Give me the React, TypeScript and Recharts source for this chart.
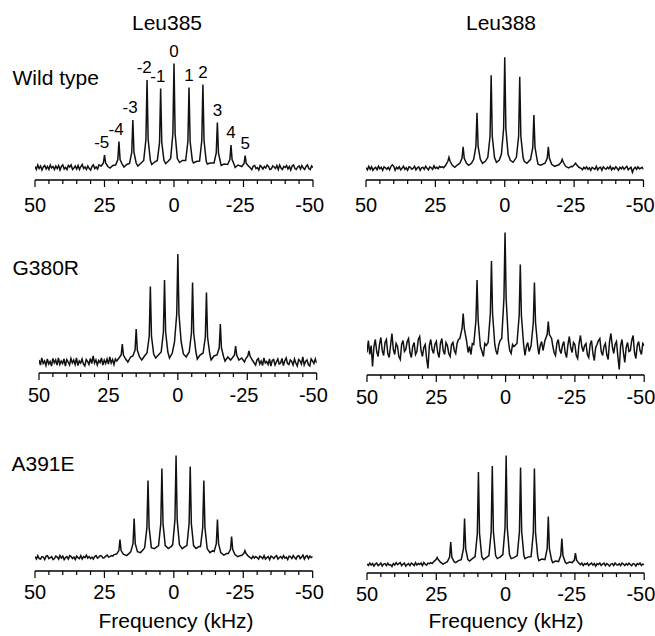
import React from 'react';
import { LineChart, Line, XAxis, YAxis, ReferenceDot } from 'recharts';

type Pt = [number, number];

const FONT = '"Liberation Sans", Arial, Helvetica, sans-serif';

// axis ticks (kHz)
const ALL_TICKS = [50, 45, 40, 35, 30, 25, 20, 15, 10, 5, 0, -5, -10, -15, -20, -25, -30, -35, -40, -45, -50];
const MAJOR_TICKS = [50, 25, 0, -25, -50];

const COLUMN_TITLES = ['Leu385', 'Leu388'];
const ROW_TITLES = ['Wild type', 'G380R', 'A391E'];
const X_TITLE = 'Frequency (kHz)';

// Baseline noise is sampled every 0.5 kHz, going down in frequency from a start value.
const NOISE_STEP = 0.5;

// ---------- Wild type, Leu385 ----------
const wt385Peaks: Pt[] = [[25, 12.5], [19.8, 26], [14.8, 47.5], [9.7, 87.5], [4.8, 79], [0, 104], [-5.4, 80], [-10.4, 83], [-15.6, 45], [-20.5, 22.5], [-25.6, 12]];
const wt385Labels = ['-5', '-4', '-3', '-2', '-1', '0', '1', '2', '3', '4', '5'];
const wt385NoiseHi = [1, -2, 2.5, -1, 1.5, -2.5, 0.5, 2, -1.5, 1, -2, 2.5, -0.5, 1, -2, 1.5, -1, 2, -2.5, 1, 2.5, -1.5, 0, -2, 2, 0.5, 2.5, -2, -0.5, 1.5, -1.5, 2, -2, 1, 3, -1, 0.5, -2, 1.5, -1, -2.5, 1, 2.5, -1, 0.5, -1.5, 2.5];
const wt385NoiseLo = [-0.5, -2, 1.5, 2, -1, 0, -2.5, 2, 0.5, -1.5, 1, -0.5, 2.5, 1, -2, -1.5, 1.5, 0.5, -1, 2, -2, 2.5, -0.5, -2, 1, 0, 2, -1.5, 1, -2.5, 1.5, 2.5, -1, -2, 0.5, 1.5, -1.5, 2, -0.5, -2, 1, 2.5, -1, -2, 1.5, 0];
const wt385Trace: Pt[] = [
  [26.2, 1.5], [25.4, 4.5], [24.6, 4.5], [23.8, 1], [23, -0.5], [22, 2],
  [21, 2.5], [20.2, 8], [19.4, 8], [18.6, 3], [18, 0.5], [17, 3],
  [16, 4], [15.2, 15], [14.4, 15], [13.6, 4.5], [13, 1.5], [12, 4],
  [10.9, 7], [10.1, 28], [9.3, 28], [8.5, 7], [8, 3], [7, 5.5],
  [6, 7], [5.2, 25], [4.4, 25], [3.6, 7], [3, 4], [2, 6.5],
  [1.2, 9], [0.4, 34], [-0.4, 34], [-1.2, 9], [-2, 5], [-3, 7],
  [-4.2, 7], [-5, 26], [-5.8, 26], [-6.6, 7], [-7, 4.5], [-8, 6],
  [-9.2, 6.5], [-10, 27], [-10.8, 27], [-11.6, 6], [-12, 3.5], [-13, 4.5],
  [-14.4, 4.5], [-15.2, 14.5], [-16, 14.5], [-16.8, 4], [-17, 2], [-18, 3.5],
  [-19.3, 3], [-20.1, 8], [-20.9, 8], [-21.7, 2.5], [-22, 0], [-23, 2.5],
  [-24.4, 1], [-25.2, 4], [-26, 4], [-26.8, 1.5],
];

// ---------- Wild type, Leu388 ----------
const wt388Peaks: Pt[] = [[20.1, 11], [15, 21.6], [10, 55.6], [4.9, 93], [0, 111], [-5.4, 91.6], [-10.5, 53.3], [-15.7, 21.6], [-20.7, 9], [-25.5, 5]];
const wt388NoiseHi = [0.5, -1.5, 2, -1, 1.5, -2, 0, 1, -1.5, 2, -0.5, 1, -2, 1.5, 0.5, -1, 1, -1.5, 2, 3.5, 2, -2, 1, -0.5, 1.5, -1.5, 0, 2, -1, 0.5, -2, 1.5, 1, -1, 0, 2, -1.5, 0.5, 1.5, -2, 0.5, 1, -1, 2, 0, -1.5, 1.5, 0.5, -1, 2.5, 0, 1, -0.5, 2, 1, 1.5, 0.5];
const wt388NoiseLo = [0, -1.5, 1, -0.5, 1.5, -1, 0.5, -2, 1, 0, -1, 2, -1.5, 0.5, 1, -2, 1.5, 0, -1, 1, -0.5, 2, -1.5, 0.5, -1, 1.5, 0, -2, 1, -0.5, 1.5, -1, 0.5, 2, -1.5, 0, 1, -4, -0.5, 1, -1, 1.5, -0.5, 0, 1, -1];
const wt388Trace: Pt[] = [
  [21.3, 3], [20.5, 7], [19.7, 7], [18.9, 3], [18, 1], [17, 3.5],
  [16.2, 5], [15.4, 10], [14.6, 10], [13.8, 5], [13, 3], [12, 5],
  [11.2, 9], [10.4, 22], [9.6, 22], [8.8, 9], [8, 5], [7, 7],
  [6.1, 11], [5.3, 32], [4.5, 32], [3.7, 11], [3, 6], [2, 8],
  [1.2, 14], [0.4, 40], [-0.4, 40], [-1.2, 14], [-2, 8], [-3, 6],
  [-4.2, 11], [-5, 32], [-5.8, 32], [-6.6, 11], [-7, 7], [-8, 5],
  [-9.3, 9], [-10.1, 21], [-10.9, 21], [-11.7, 8], [-12, 4], [-13, 3],
  [-14.5, 5], [-15.3, 10], [-16.1, 10], [-16.9, 4], [-18, 2], [-19, 3],
  [-19.5, 3.5], [-20.3, 6], [-21.1, 6], [-21.9, 2], [-23, 0.5], [-24, 2],
  [-24.3, 1.5], [-25.1, 3.5], [-25.9, 3.5], [-26.7, 1],
];

// ---------- G380R, Leu385 ----------
const g380r385Peaks: Pt[] = [[20, 18], [15, 33], [9.9, 75.6], [4.8, 82], [0, 108], [-5.3, 79.6], [-10.3, 69.6], [-15.3, 38], [-20.8, 16], [-25.6, 11]];
const g380r385NoiseHi = [2, -3, 4, -1.5, 1, -3.5, 3, -2, 0.5, -4, 3.5, -1, 2, -3, 4, -2.5, 1, -1.5, 3, -4, 2.5, 0, -3, 3.5, -1, 2, -2.5, 4, -3.5, 1, -1, 3, -2, -4, 2.5, 0.5, -2.5, 3.5, -1.5, 6, -1, 2, -3, 1.5, -0.5, 4, -3, 2, -1.5, 3, -2, 5, -1, 2.5, -2.5, 3, 1];
const g380r385NoiseLo = [-1, -3, 2, 3.5, -2, 1, -3.5, 4, -1, 0.5, -2.5, 3, -4, 1.5, 2.5, -3, 0, 3, -2, -1, 3.5, -3.5, 1, 4, -1.5, -2.5, 2, 0.5, -3, 3, -1, -4, 2.5, 1, -2, 5, -3, 0.5, 2, -2.5, -4, 3, 1, -1.5, 3, -1];
const g380r385Trace: Pt[] = [
  [21.2, 4], [20.4, 7], [19.6, 7], [18.8, 3], [18, 0], [17, 5],
  [16.2, 6], [15.4, 12], [14.6, 12], [13.8, 5], [13, 2], [12, 6],
  [11.1, 9], [10.3, 26], [9.5, 26], [8.7, 8], [8, 4], [7, 7],
  [6, 10], [5.2, 30], [4.4, 30], [3.6, 10], [3, 4], [2, 9],
  [1.2, 20], [0.4, 48], [-0.4, 48], [-1.2, 20], [-2, 8], [-3, 5],
  [-4.1, 10], [-4.9, 29], [-5.7, 29], [-6.5, 10], [-7, 3], [-8, 7],
  [-9.1, 9], [-9.9, 25], [-10.7, 25], [-11.5, 8], [-12, 2], [-13, 6],
  [-14.1, 7], [-14.9, 14], [-15.7, 14], [-16.5, 5], [-17, 1], [-18, 5], [-19, 2],
  [-19.6, 4], [-20.4, 7], [-21.2, 7], [-22, 2], [-23, 4], [-24, 0],
  [-24.4, 3], [-25.2, 6], [-26, 6], [-26.8, 2],
];

// ---------- G380R, Leu388 ----------
const g380r388Peaks: Pt[] = [[15.3, 35], [10.3, 68.5], [5.1, 87.5], [0.2, 116], [-5.3, 84], [-10.4, 66], [-15.4, 27]];
const g380r388NoiseHi = [-4, 8, -6, 3, -18, 2, 9, -3, -8, 4, 11, -2, -7, 6, 9, -5, -9, 3, 15, -1, -6, 5, 2, -8, -11, 4, 8, -3, -1, 7, 10, -4, -9, 2, 6, -6, -3, 9, 12, -2, -8, 1, 4, -10, -20, 3, 9, -1, -5, 4, 7, -4, -9, 5, 10, -2, -6, 6, 3, -5, -8, 4, 6, -2, -5, 5, 9];
const g380r388NoiseLo = [3, -4, -7, 5, 9, -1, -5, 3, 7, -4, -9, 4, 12, 1, -4, 6, 4, -7, -10, 5, 13, 2, -3, 3, 5, -6, -9, 4, 8, -5, -12, 1, 4, 8, 10, -3, -7, 2, 5, -6, -11, 7, 15, 2, -5, 4, 7, -8, -21, 3, 9, -4, -14, 1, 6, -3, -2, 8, 13, -4, -10, 3, 7, -2, -6, 5, 3];
const g380r388Trace: Pt[] = [
  [16.5, 10], [15.7, 20], [14.9, 20], [14.1, 8], [13.5, -4], [13, 2], [12.5, -6], [12, 5],
  [11.5, 4], [10.7, 28], [9.9, 28], [9.1, 2], [8.5, -3], [8, -8], [7.5, 5], [7, 3],
  [6.3, 6], [5.5, 35], [4.7, 35], [3.9, 4], [3.5, -2], [3, -6], [2.5, 3], [2, 8],
  [1.4, 10], [0.6, 50], [-0.2, 50], [-1, 8], [-1.5, -2], [-2, -5], [-2.5, 4], [-3, 2],
  [-4.1, 5], [-4.9, 33], [-5.7, 33], [-6.5, 4], [-7, -7], [-7.5, 2], [-8, 6], [-8.5, -3],
  [-9.2, 3], [-10, 26], [-10.8, 26], [-11.6, 2], [-12, -6], [-12.5, 3], [-13, 7], [-13.5, -2],
  [-14.2, 8], [-15, 14], [-15.8, 14], [-16.6, 10],
];

// ---------- A391E, Leu385 ----------
const a391e385Peaks: Pt[] = [[19.4, 18], [14.3, 39], [9.3, 77], [4.3, 89], [-0.8, 102], [-5.9, 91], [-10.8, 77], [-15.7, 38], [-20.8, 21], [-25.6, 7]];
const a391e385NoiseHi = [1, -1.5, 2, -1, -1.5, 1, 0.5, -2, 1.5, 2, -1, 0, 1, -2, -1, 1.5, 0.5, -1.5, 2, -0.5, 1.5, -2, 0, 1, -1.5, 2, 1, -1, 0.5, -2, 1.5, 0, -1, 2, -1.5, 1, 0, 2.5, -0.5, 1, -1, 0.5, -1.5, 1, 2, -0.5, 0.5, 2, 1.5, -0.5, 0, 1.5, 2.5, 0.5, 1, 2, 1.5, 3];
const a391e385NoiseLo = [0, -1, 1.5, -0.5, 1, 0, -1.5, 1.5, 0.5, -1, 2, -1.5, 0, 1, -2, 1.5, 0.5, -1, 1, 2, -1.5, 0, 1, -1, 2, -0.5, 0.5, -2, 1.5, 1, -1, 2, 0, -1.5, 1.5, 2, -1, 0.5, 2.5, -1.5, 1, 2, -1, 1.5, 0, 1];
const a391e385Trace: Pt[] = [
  [20.6, 3.5], [19.8, 7], [19, 7], [18.2, 3.5], [17, 2], [16, 4.5],
  [15.5, 6], [14.7, 14], [13.9, 14], [13.1, 6], [12, 5], [11, 8],
  [10.5, 10], [9.7, 30], [8.9, 30], [8.1, 10], [7, 9], [6, 11],
  [5.5, 12], [4.7, 34], [3.9, 34], [3.1, 12], [2, 9], [1, 11],
  [0.4, 13], [-0.4, 38], [-1.2, 38], [-2, 13], [-3, 9], [-4, 11],
  [-4.7, 12], [-5.5, 34], [-6.3, 34], [-7.1, 12], [-8, 9], [-9, 11],
  [-9.6, 11], [-10.4, 30], [-11.2, 30], [-12, 9], [-13, 5], [-14, 7],
  [-14.5, 6], [-15.3, 14], [-16.1, 14], [-16.9, 5], [-18, 2.5], [-19, 4],
  [-19.6, 4], [-20.4, 8], [-21.2, 8], [-22, 3], [-23, 1], [-24, 2],
  [-24.4, 2], [-25.2, 4], [-26, 4], [-26.8, 1.5],
];

// ---------- A391E, Leu388 ----------
const a391e388Peaks: Pt[] = [[24.7, 7], [19.8, 22.6], [14.8, 46], [9.8, 92.6], [4.8, 98.6], [-0.2, 109], [-5.4, 97], [-10.4, 96], [-15.4, 48], [-20.3, 26], [-25.2, 11.6]];
const a391e388NoiseHi = [0.5, -1, 1.5, -0.5, 1, -1.5, 0.5, 1.5, -1, 0, 1.5, -1.5, 0.5, 1, -1, 1.5, -0.5, 0, -2, 1, -0.5, 2, 0, 1, 2, -1, 0.5, 1.5, -1.5, 0, 1, -1, 1.5, 0.5, -1, 2, -0.5, 1, 0, 1.5, -1, 2, 0.5, -0.5, 1.5, 1, 2, 1];
const a391e388NoiseLo = [0, 1.5, -1, 1, 0, 1.5, -1, 0.5, 1.5, -0.5, 1, -1.5, 1, 0, 1.5, -1, 0.5, 1.5, -1, 1, 0, -1.5, 0.5, 1, -1, 1.5, 0, -0.5, 1, -1, 1.5, 0.5, -1, 1, -0.5, 1.5, 0, -1, 1, 0.5, -1.5, 1, 0, 1.5, -1, 0.5, 0];
const a391e388Trace: Pt[] = [
  [25.9, 3], [25.1, 5], [24.3, 5], [23.5, 2.5], [22.6, 0.5],
  [21, 3], [20.2, 7.5], [19.4, 7.5], [18.6, 3], [18, 2], [17, 4],
  [16, 5], [15.2, 16], [14.4, 16], [13.6, 5], [13, 3.5], [12, 6],
  [11, 8], [10.2, 31], [9.4, 31], [8.6, 8], [8, 5], [7, 7],
  [6, 9], [5.2, 33], [4.4, 33], [3.6, 9], [3, 6], [2, 7.5],
  [1, 10], [0.2, 37], [-0.6, 37], [-1.4, 10], [-2, 6], [-3, 7],
  [-4.2, 9], [-5, 33], [-5.8, 33], [-6.6, 9], [-7, 6], [-8, 7.5],
  [-9.2, 8], [-10, 32], [-10.8, 32], [-11.6, 8], [-12, 4], [-13, 5.5],
  [-14.2, 5], [-15, 16], [-15.8, 16], [-16.6, 4.5], [-17, 2], [-18, 3.5],
  [-19.1, 3], [-19.9, 9], [-20.7, 9], [-21.5, 2.5], [-22, 1], [-23, 2.5],
  [-24, 2], [-24.8, 4.5], [-25.6, 4.5], [-26.4, 1.5],
];

const noisePoints = (start: number, values: number[]): Pt[] =>
  values.map((v, i) => [start - NOISE_STEP * i, v] as Pt);

const toSeries = (parts: Pt[][]) =>
  parts.flat().sort((a, b) => b[0] - a[0]).map(([f, v]) => ({ f, v }));

const PLOT_H = 150;
const SIDE = 25;

function renderTick(props: any, labelDy: number) {
  const { x, y, payload } = props;
  const v = payload.value as number;
  const major = MAJOR_TICKS.includes(v);
  return (
    <g>
      <line x1={x} x2={x} y1={y} y2={y + (major ? 7 : 4)} stroke="#000" strokeWidth={1.2} />
      {major && (
        <text x={v < 0 ? x - 3.3 : x} y={y + labelDy} textAnchor="middle" fontSize={20} fontFamily={FONT} fill="#000">
          {String(v)}
        </text>
      )}
    </g>
  );
}

interface PanelProps {
  data: { f: number; v: number }[];
  peaks: Pt[];
  labels?: string[];
  left: number;
  width: number;
  axisY: number;
  baseY: number;
  labelDy: number;
}

function Panel({ data, peaks, labels, left, width, axisY, baseY, labelDy }: PanelProps) {
  const lo = -(axisY - baseY);
  const hi = PLOT_H + lo;
  return (
    <div style={{ position: 'absolute', left: left - SIDE, top: axisY - PLOT_H }}>
      <LineChart width={width + 2 * SIDE} height={PLOT_H + 45} data={data} margin={{ top: 0, right: SIDE, bottom: 0, left: SIDE }}>
        <XAxis
          type="number"
          dataKey="f"
          domain={[-50, 50]}
          reversed
          ticks={ALL_TICKS}
          interval={0}
          allowDataOverflow
          tickLine={false}
          tickSize={0}
          tickMargin={0}
          height={45}
          axisLine={{ stroke: '#000', strokeWidth: 1.3 }}
          tick={(p: any) => renderTick(p, labelDy)}
        />
        <YAxis hide type="number" domain={[lo, hi]} allowDataOverflow />
        <Line type="linear" dataKey="v" stroke="#111" strokeWidth={1.5} dot={false} isAnimationActive={false} />
        {labels &&
          peaks.map((p, i) => (
            <ReferenceDot
              key={i}
              x={p[0]}
              y={p[1]}
              r={0}
              ifOverflow="visible"
              shape={(sp: any) => (
                <text
                  x={sp.cx - (labels[i].startsWith('-') ? 2.8 : 0)}
                  y={sp.cy - 7}
                  textAnchor="middle"
                  fontSize={17}
                  fontFamily={FONT}
                  fill="#000"
                >
                  {labels[i]}
                </text>
              )}
            />
          ))}
      </LineChart>
    </div>
  );
}

export default function App() {
  const d1 = toSeries([noisePoints(50, wt385NoiseHi), wt385Trace, wt385Peaks, noisePoints(-27.5, wt385NoiseLo)]);
  const d2 = toSeries([noisePoints(50, wt388NoiseHi), wt388Trace, wt388Peaks, noisePoints(-27.5, wt388NoiseLo)]);
  const d3 = toSeries([noisePoints(50, g380r385NoiseHi), g380r385Trace, g380r385Peaks, noisePoints(-27.5, g380r385NoiseLo)]);
  const d4 = toSeries([noisePoints(50, g380r388NoiseHi), g380r388Trace, g380r388Peaks, noisePoints(-17, g380r388NoiseLo)]);
  const d5 = toSeries([noisePoints(50, a391e385NoiseHi), a391e385Trace, a391e385Peaks, noisePoints(-27.5, a391e385NoiseLo)]);
  const d6 = toSeries([noisePoints(50, a391e388NoiseHi), a391e388Trace, a391e388Peaks, noisePoints(-27, a391e388NoiseLo)]);
  return (
    <div style={{ position: 'absolute', left: 0, top: 0, width: 655, height: 636, background: '#fff', overflow: 'hidden' }}>
      <svg width={655} height={636} style={{ position: 'absolute', left: 0, top: 0 }}>
        <g fontFamily={FONT} fontSize={21} fill="#000">
          <text x={167} y={30} textAnchor="middle">{COLUMN_TITLES[0]}</text>
          <text x={501} y={30} textAnchor="middle">{COLUMN_TITLES[1]}</text>
          <text x={12.5} y={84.5}>{ROW_TITLES[0]}</text>
          <text x={12.5} y={275}>{ROW_TITLES[1]}</text>
          <text x={11.5} y={471}>{ROW_TITLES[2]}</text>
          <text x={176} y={628} textAnchor="middle">{X_TITLE}</text>
          <text x={506} y={628} textAnchor="middle">{X_TITLE}</text>
        </g>
      </svg>
      <Panel data={d1} peaks={wt385Peaks} labels={wt385Labels} left={35} width={278} axisY={180} baseY={167.5} labelDy={32} />
      <Panel data={d2} peaks={wt388Peaks} left={366} width={277.5} axisY={180} baseY={168.3} labelDy={32} />
      <Panel data={d3} peaks={g380r385Peaks} left={39} width={277.7} axisY={373.3} baseY={362.3} labelDy={29.5} />
      <Panel data={d4} peaks={g380r388Peaks} left={367.3} width={277.2} axisY={375} baseY={348.5} labelDy={29.5} />
      <Panel data={d5} peaks={a391e385Peaks} left={35} width={277.7} axisY={570.7} baseY={557.3} labelDy={28} />
      <Panel data={d6} peaks={a391e388Peaks} left={367.3} width={277.2} axisY={572.7} baseY={564.3} labelDy={28} />
    </div>
  );
}
